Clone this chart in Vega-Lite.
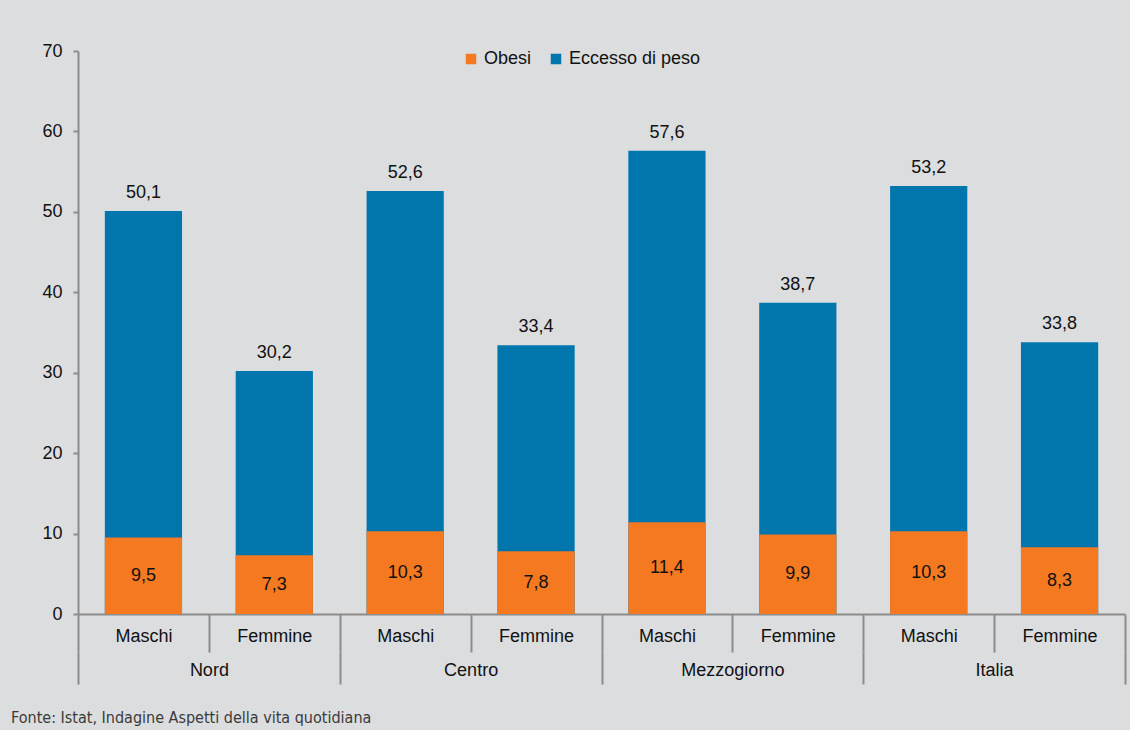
{
  "$schema": "https://vega.github.io/schema/vega-lite/v6.json",
  "autosize": "none",
  "width": 1047,
  "height": 563,
  "padding": {"left": 78, "top": 51, "right": 5, "bottom": 116},
  "background": "#dcdddf",
  "data": {
    "values": [
      {"area": "Nord", "sesso": "Maschi", "bar": "Nord|Maschi", "Obesi": 9.5, "Eccesso di peso": 50.1},
      {"area": "Nord", "sesso": "Femmine", "bar": "Nord|Femmine", "Obesi": 7.3, "Eccesso di peso": 30.2},
      {"area": "Centro", "sesso": "Maschi", "bar": "Centro|Maschi", "Obesi": 10.3, "Eccesso di peso": 52.6},
      {"area": "Centro", "sesso": "Femmine", "bar": "Centro|Femmine", "Obesi": 7.8, "Eccesso di peso": 33.4},
      {"area": "Mezzogiorno", "sesso": "Maschi", "bar": "Mezzogiorno|Maschi", "Obesi": 11.4, "Eccesso di peso": 57.6},
      {"area": "Mezzogiorno", "sesso": "Femmine", "bar": "Mezzogiorno|Femmine", "Obesi": 9.9, "Eccesso di peso": 38.7},
      {"area": "Italia", "sesso": "Maschi", "bar": "Italia|Maschi", "Obesi": 10.3, "Eccesso di peso": 53.2},
      {"area": "Italia", "sesso": "Femmine", "bar": "Italia|Femmine", "Obesi": 8.3, "Eccesso di peso": 33.8}
    ]
  },
  "title": {
    "text": "Fonte: Istat, Indagine Aspetti della vita quotidiana",
    "orient": "bottom",
    "anchor": "start",
    "frame": "group",
    "dx": -67,
    "offset": 25,
    "font": "Liberation Sans Narrow, DejaVu Sans Condensed, sans-serif",
    "fontSize": 16,
    "fontWeight": "normal",
    "color": "#3a3a3a"
  },
  "layer": [
    {
      "layer": [
        {
          "transform": [{"fold": ["Eccesso di peso", "Obesi"], "as": ["serie", "valore"]}],
          "mark": {"type": "bar", "width": {"band": 0.59}},
          "encoding": {
            "x": {
              "field": "bar",
              "type": "nominal",
              "sort": null,
              "scale": {"paddingInner": 0, "paddingOuter": 0},
              "axis": {
                "title": null,
                "orient": "bottom",
                "labelExpr": "split(datum.value, '|')[1]",
                "labelAngle": 0,
                "tickBand": "extent",
                "tickSize": 38,
                "tickColor": "#8c8c8c",
                "tickWidth": 2,
                "domainColor": "#8c8c8c",
                "domainWidth": 2,
                "labelPadding": -16,
                "labelBaseline": "middle",
                "labelFont": "Liberation Sans, Arial, sans-serif",
                "labelFontSize": 18,
                "labelColor": "#111111"
              }
            },
            "y": {
              "field": "valore",
              "type": "quantitative",
              "stack": null,
              "scale": {"domain": [0, 70], "nice": false},
              "axis": {
                "title": null,
                "values": [0, 10, 20, 30, 40, 50, 60, 70],
                "grid": false,
                "tickSize": 5,
                "tickColor": "#8c8c8c",
                "tickWidth": 2,
                "domainColor": "#8c8c8c",
                "domainWidth": 2,
                "labelPadding": 11,
                "labelFont": "Liberation Sans, Arial, sans-serif",
                "labelFontSize": 18,
                "labelColor": "#111111"
              }
            },
            "color": {
              "field": "serie",
              "type": "nominal",
              "scale": {"domain": ["Obesi", "Eccesso di peso"], "range": ["#f47920", "#0076ad"]},
              "legend": {
                "title": null,
                "orient": "none",
                "legendX": 384,
                "legendY": -1,
                "direction": "horizontal",
                "symbolType": "square",
                "symbolSize": 110,
                "symbolStrokeWidth": 0,
                "labelFont": "Liberation Sans, Arial, sans-serif",
                "labelFontSize": 18,
                "labelColor": "#111111",
                "labelOffset": 4,
                "columnPadding": 15
              }
            }
          }
        },
        {
          "mark": {"type": "text", "baseline": "middle", "dy": -18, "font": "Liberation Sans, Arial, sans-serif", "fontSize": 18, "color": "#111111"},
          "encoding": {
            "x": {"field": "bar", "type": "nominal", "sort": null},
            "y": {"field": "Eccesso di peso", "type": "quantitative"},
            "text": {"field": "Eccesso di peso", "type": "quantitative", "format": ".1f"}
          }
        }
      ]
    },
    {
      "mark": {"type": "text", "baseline": "middle", "font": "Liberation Sans, Arial, sans-serif", "fontSize": 18, "color": "#111111"},
      "encoding": {
        "x": {"field": "bar", "type": "nominal", "sort": null, "scale": {"paddingInner": 0, "paddingOuter": 0}, "axis": null},
        "y": {"field": "Obesi", "type": "quantitative", "scale": {"domain": [0, 140], "nice": false}, "axis": null},
        "text": {"field": "Obesi", "type": "quantitative", "format": ".1f"}
      }
    },
    {
      "mark": {"type": "rule", "opacity": 0},
      "encoding": {
        "x": {
          "field": "area",
          "type": "nominal",
          "sort": null,
          "scale": {"paddingInner": 0, "paddingOuter": 0},
          "axis": {
            "title": null,
            "orient": "bottom",
            "offset": 38,
            "domain": false,
            "labelAngle": 0,
            "tickBand": "extent",
            "tickSize": 32,
            "tickColor": "#8c8c8c",
            "tickWidth": 2,
            "labelPadding": -14,
            "labelBaseline": "middle",
            "labelFont": "Liberation Sans, Arial, sans-serif",
            "labelFontSize": 18,
            "labelColor": "#111111"
          }
        }
      }
    }
  ],
  "resolve": {"scale": {"x": "independent", "y": "independent"}},
  "config": {
    "view": {"stroke": null},
    "locale": {
      "number": {"decimal": ",", "thousands": ".", "grouping": [3], "currency": ["€", ""]}
    }
  }
}
